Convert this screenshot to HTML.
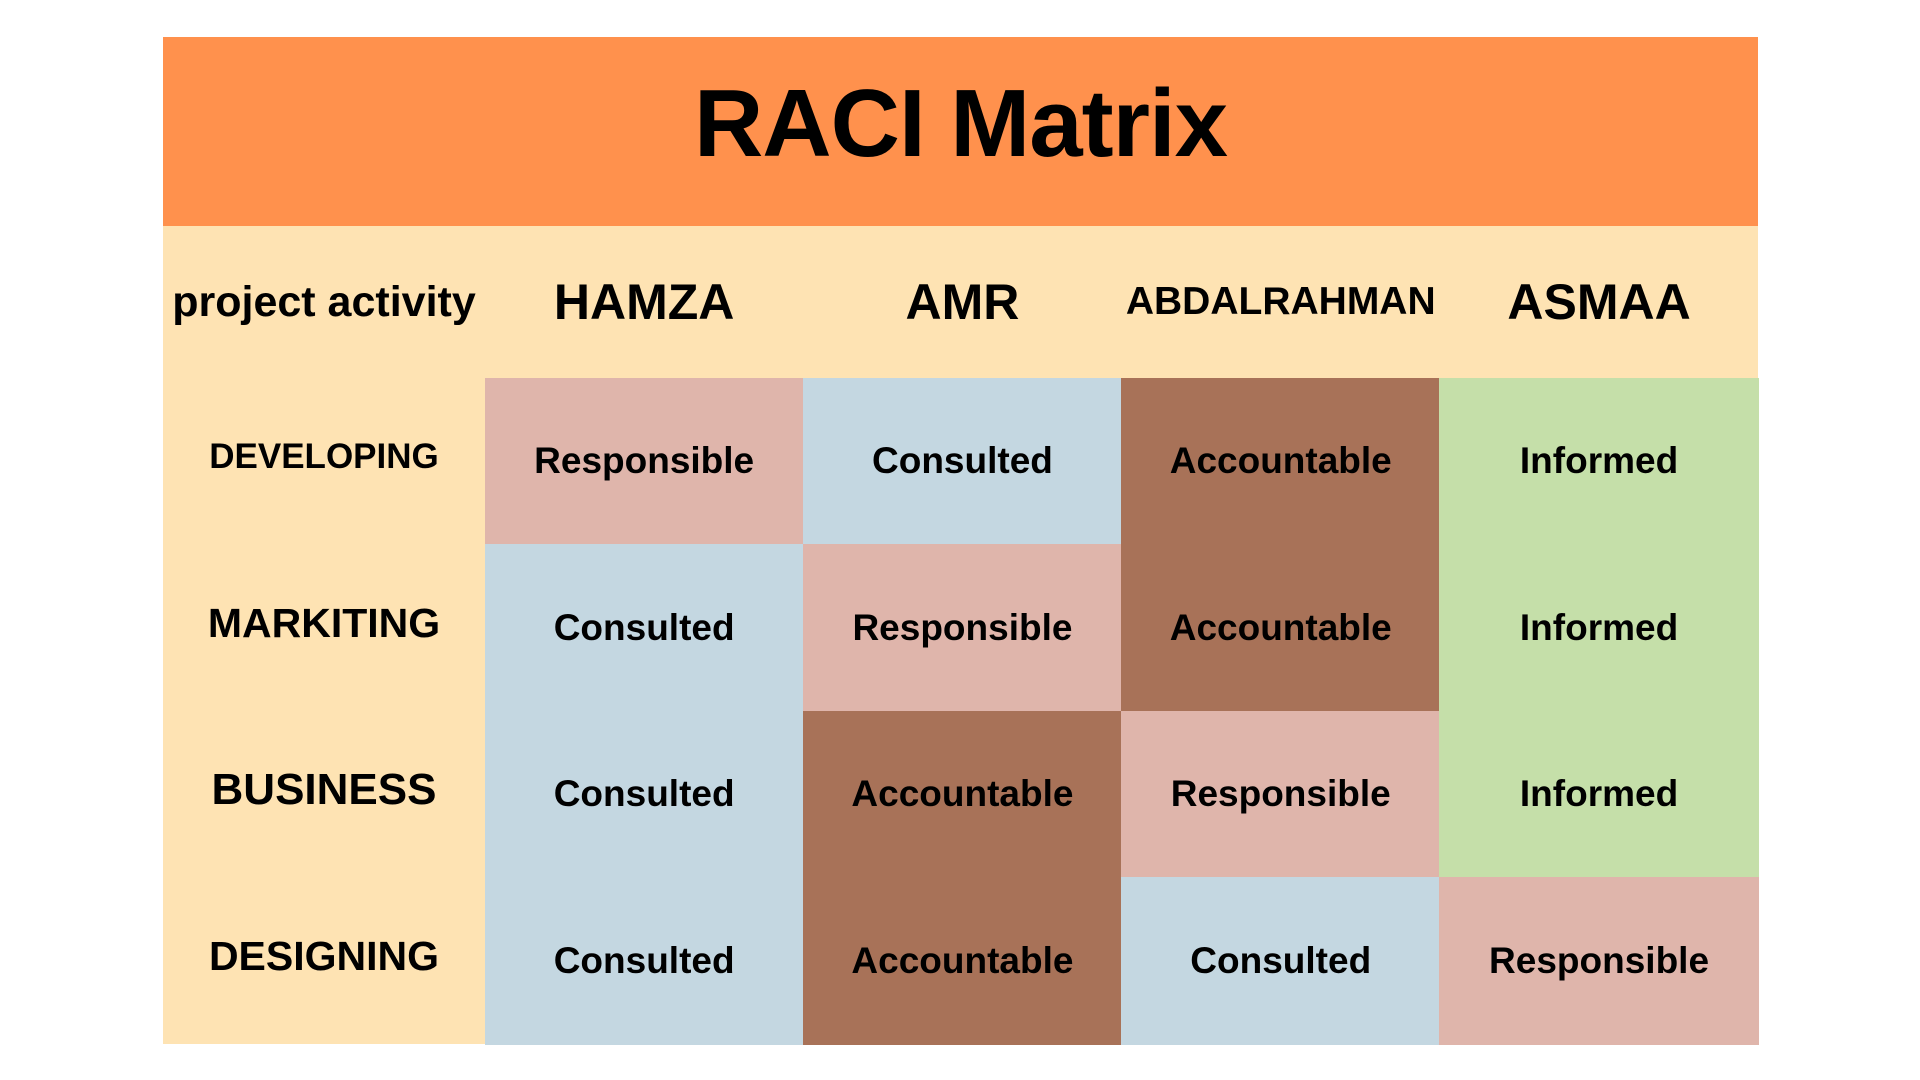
<!DOCTYPE html>
<html><head><meta charset="utf-8"><style>
body{margin:0;width:1920px;height:1080px;background:#fff;position:relative;overflow:hidden;font-family:"Liberation Sans",sans-serif;color:#000}
.b{position:absolute;display:flex;align-items:center;justify-content:center;text-align:center;white-space:nowrap}
</style></head><body>
<div class="b" style="left:163px;top:37px;width:1595px;height:189px;background:#FF914D">
<span style="font-size:96px;font-weight:bold;letter-spacing:-1px;position:relative;top:-8px">RACI Matrix</span></div>
<div id="m" style="position:absolute;left:163px;top:226px;width:1595px;height:818px;background:#FEE3B3"></div>
<script>
const people=['HAMZA','AMR','ABDALRAHMAN','ASMAA'];
const activities=['DEVELOPING','MARKITING','BUSINESS','DESIGNING'];
const roles=[
['Responsible','Consulted','Accountable','Informed'],
['Consulted','Responsible','Accountable','Informed'],
['Consulted','Accountable','Responsible','Informed'],
['Consulted','Accountable','Consulted','Responsible']];
const colors={Responsible:'#DFB5AB',Consulted:'#C4D7E1',Accountable:'#A87258',Informed:'#C5DFA9'};
const headSize=[50,50,39,50];
const rowSize=[35,41,44,41];
const m=document.getElementById('m');
const c0=322,cw=318.3,hh=152,rh=166.5;
function box(l,t,w,h,txt,fs,fw,bg){const d=document.createElement('div');d.className='b';
d.style.cssText=`left:${l}px;top:${t}px;width:${w}px;height:${h}px;font-size:${fs}px;font-weight:${fw};`+(bg?`background:${bg};`:'');
d.textContent=txt;m.appendChild(d);return d;}
let d=box(0,0,c0,hh,'project activity',43,'bold');


people.forEach((p,j)=>{const e=box(c0+j*cw,0,cw,hh,p,headSize[j],'bold');

});
activities.forEach((a,i)=>{const e=box(0,hh+i*rh-4,c0,rh,a,rowSize[i],'bold');


roles[i].forEach((r,j)=>{const c=box(c0+j*cw-0.5,hh+i*rh-0.5,cw+1,rh+1,r,37,'bold',colors[r]);

});});
</script>
</body></html>
